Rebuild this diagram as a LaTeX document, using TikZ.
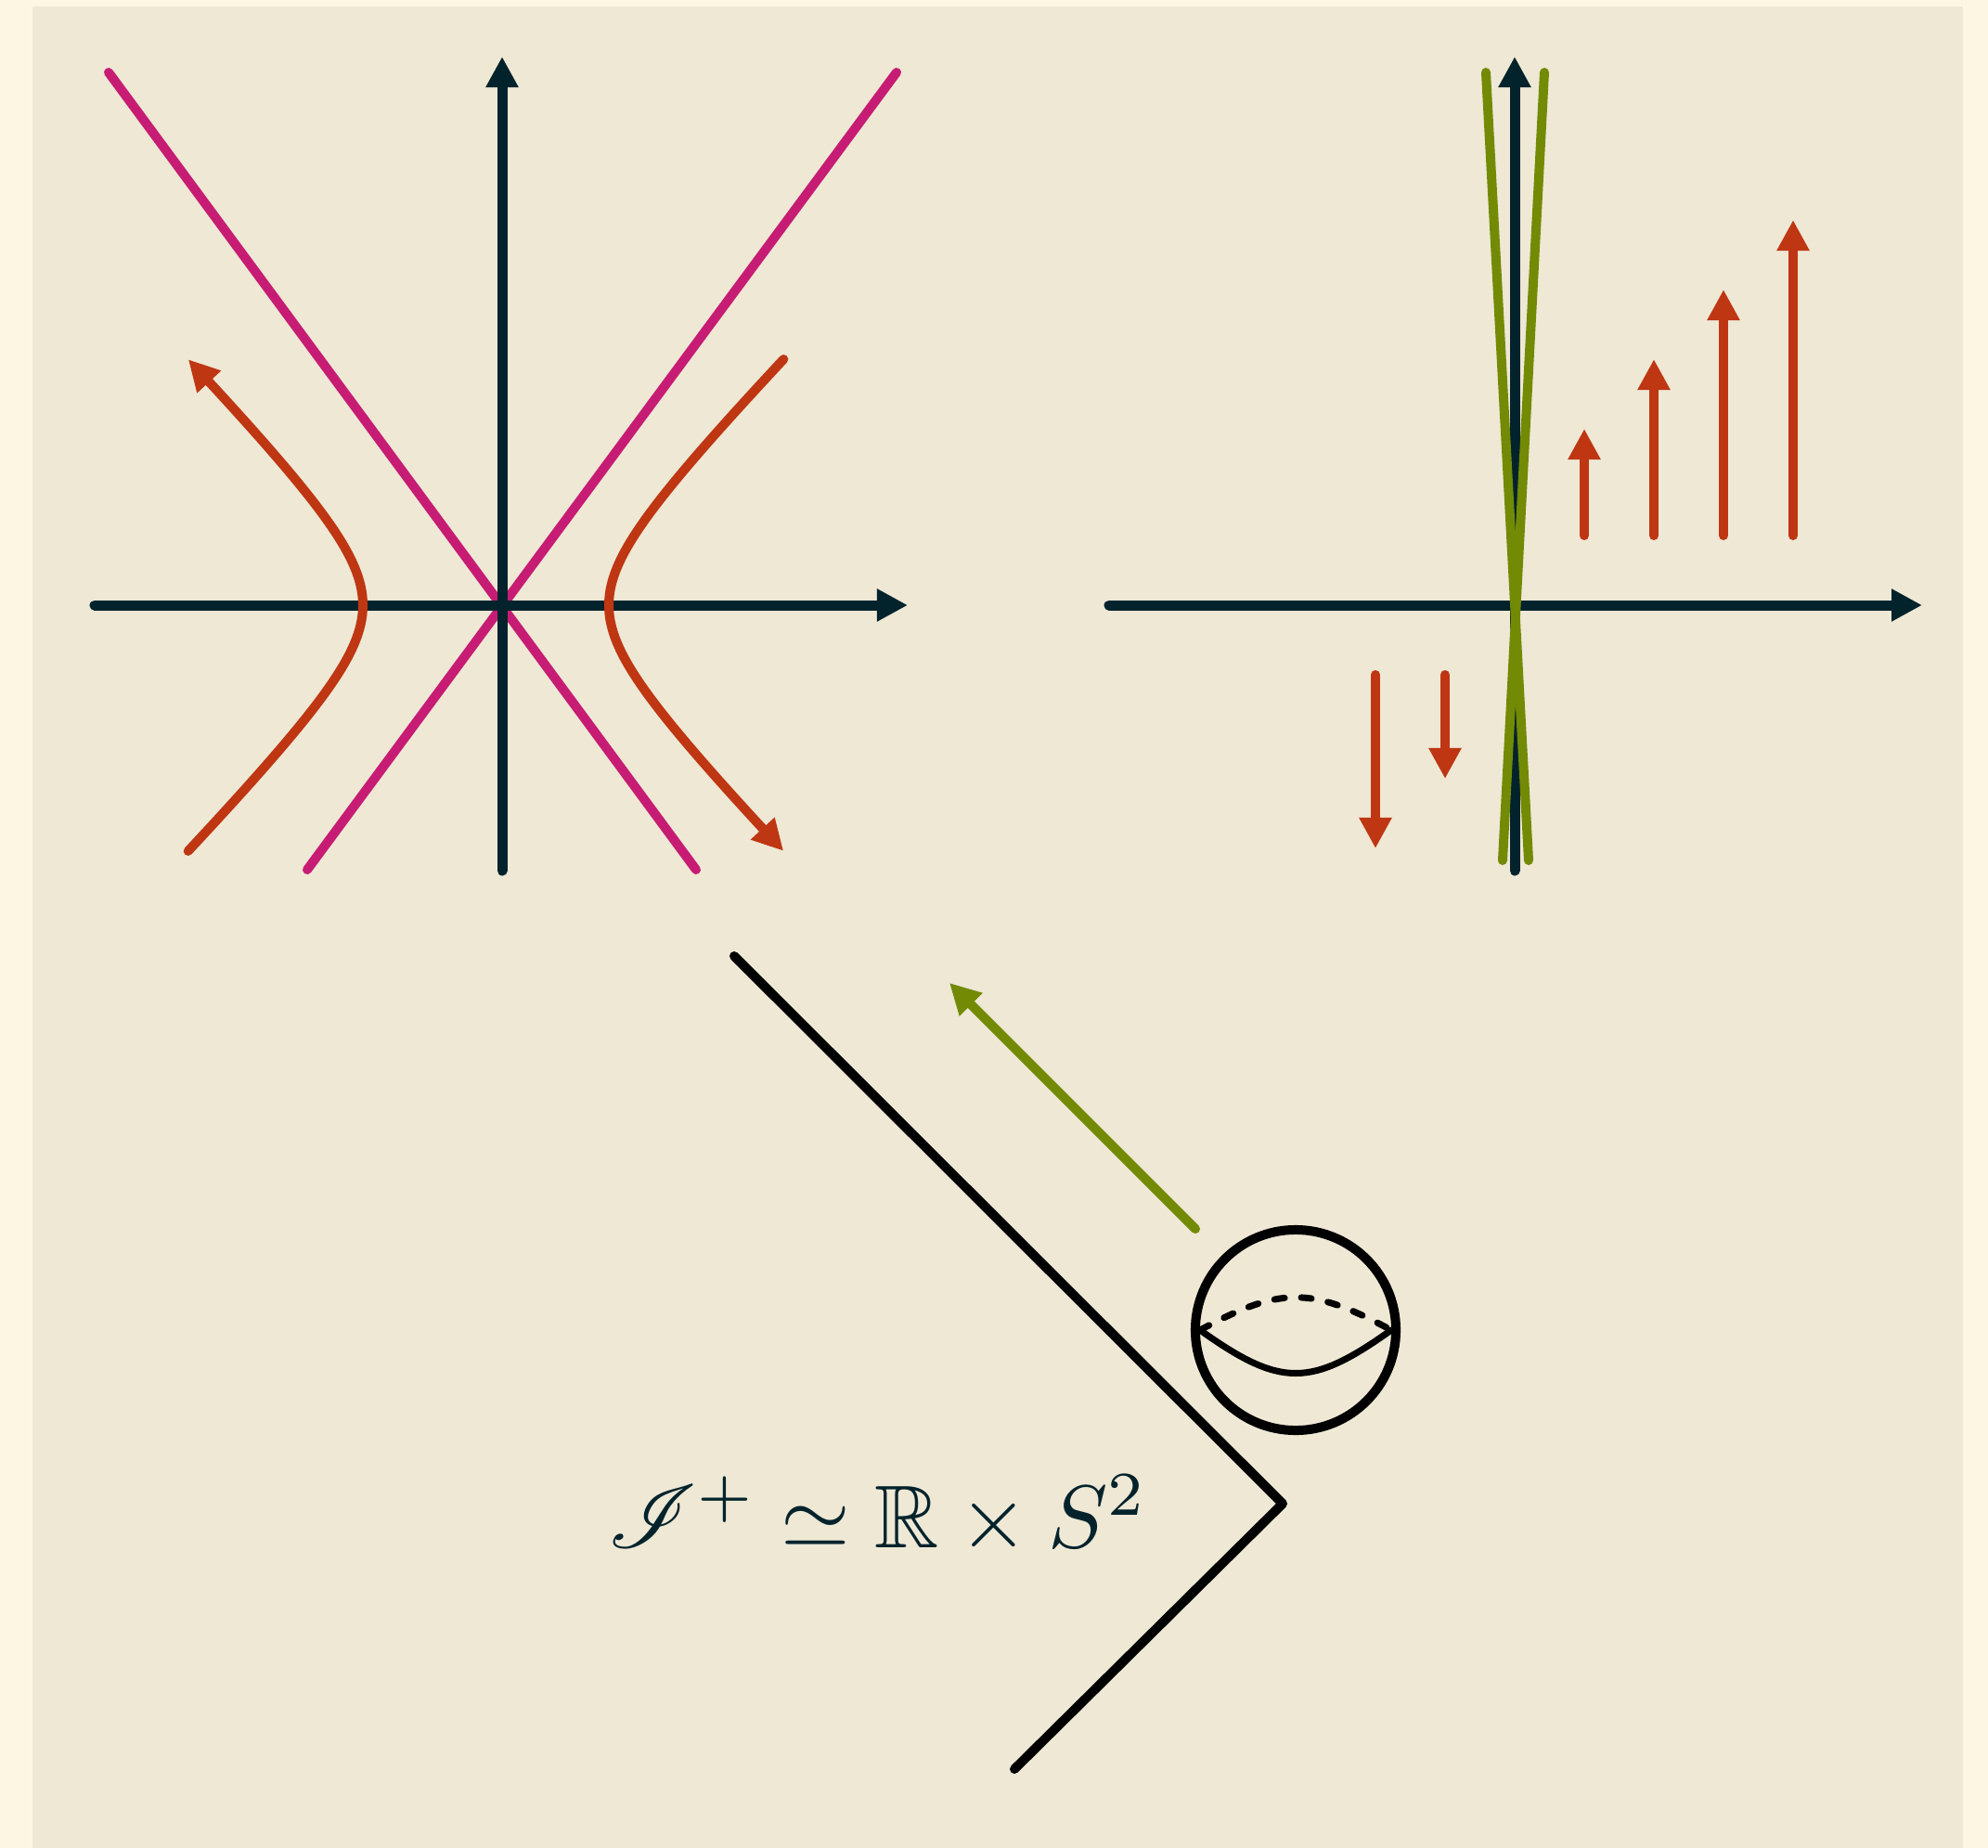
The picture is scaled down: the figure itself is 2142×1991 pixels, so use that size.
\documentclass[tikz,border=0pt]{standalone}
\usepackage{tikz}
\usetikzlibrary{arrows.meta}
\usepackage{xcolor}
\usepackage{amsmath,amssymb,mathrsfs}
\definecolor{paper}{HTML}{FDF6E3}
\definecolor{panel}{HTML}{EEE8D5}
\definecolor{ink}{HTML}{03232C}
\definecolor{cone}{HTML}{C71C74}
\definecolor{orbit}{HTML}{BF3613}
\definecolor{boost}{HTML}{738A05}

\begin{document}
\begin{tikzpicture}[
  x=0.01cm, y=-0.01cm,
  tip/.style={-{Triangle[length=3.3mm,width=3.3mm]}},
  axis/.style={tip, line width=1.1mm, ink, line cap=round},
  nullray/.style={line width=1.0mm, cone, line cap=round},
  hyp/.style={line width=1.0mm, orbit, line cap=round},
  field/.style={tip, line width=1.0mm, orbit, line cap=round},
  tilted/.style={line width=1.0mm, boost, line cap=round},
  scri/.style={line width=1.0mm, black, line cap=round, line join=round}
]
  % Background
  \fill[paper] (0,0) rectangle (2142,1991);
  \fill[panel] (35,7) rectangle (2115,1991);

  % Left plot: light cone, axes, boost orbits
  \coordinate (O1) at (541,652);
  \draw[nullray] (117,78) -- (750,937);
  \draw[nullray] (966,78) -- (331,937);
  \draw[axis] (102,652) -- (978,652);
  \draw[axis] (541,938) -- (541,61);
  \draw[hyp, tip] plot[domain=-1.836:1.836, samples=70, variable=\t]
    ({391-85*cosh(\t)+85}, {652-86.7*sinh(\t)});
  \draw[hyp, tip] plot[domain=-1.836:1.836, samples=70, variable=\t]
    ({656+85*cosh(\t)-85}, {652+86.7*sinh(\t)});

  % Right plot: axes, tilted lines, vector field
  \coordinate (O2) at (1632,652);
  \draw[axis] (1195,652) -- (2071,652);
  \draw[axis] (1632,938) -- (1632,61);
  \draw[tilted] (1601,78) -- (1647,927);
  \draw[tilted] (1664,78) -- (1619,927);
  \foreach \k in {1,2,3,4} {
    \draw[field] (1632+75*\k, 577) -- (1632+75*\k, 537-75*\k);
  }
  \foreach \k in {1,2} {
    \draw[field] (1632-75*\k, 727) -- (1632-75*\k, 764+75*\k);
  }

  % Null infinity
  \coordinate (top) at (791,1030);
  \coordinate (corner) at (1382,1620);
  \coordinate (bottom) at (1093,1906);
  \draw[scri] (top) -- (corner) -- (bottom);
  \coordinate (s) at (1288,1324);
  \coordinate (e) at (1023,1059);
  \draw[tilted, tip] (s) -- (e);

  % Sphere
  \coordinate (c) at (1396,1433);
  \coordinate (l) at (1293,1433);
  \coordinate (r) at (1499,1433);
  \draw[line width=1.0mm, black] (c) circle[radius=1.08cm];
  \draw[line width=0.7mm, black, line cap=round] (l) .. controls (1380,1495) and (1412,1495) .. (r);
  \draw[line width=0.7mm, black, line cap=round, dash pattern=on 1.1mm off 1.8mm]
    (l) .. controls (1380,1386) and (1412,1386) .. (r);

  % Label
  \node[ink, scale=2.73, anchor=base] (iso) at (946,1667)
    {$\mathscr{I}^+ \simeq \mathbb{R}\times S^2$};
\end{tikzpicture}
\end{document}
